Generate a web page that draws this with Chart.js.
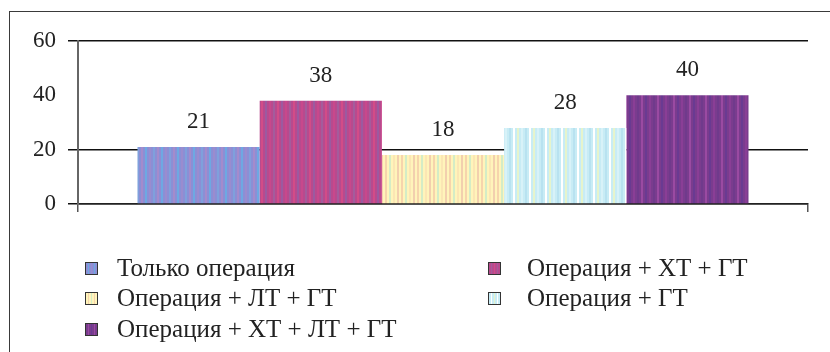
<!DOCTYPE html>
<html>
<head>
<meta charset="utf-8">
<script src="https://cdn.jsdelivr.net/npm/chart.js@4.4.1/dist/chart.umd.min.js"></script>
<style>
  html, body { margin: 0; padding: 0; background: #fff; }
  body { width: 830px; height: 352px; overflow: hidden; position: relative; font-family: "Liberation Serif", "DejaVu Serif", serif; }
  #frame { position: absolute; left: 9px; top: 11px; width: 900px; height: 400px; border-left: 1.5px solid #3a3a3a; border-top: 1.5px solid #3a3a3a; }
  #wrap { position: absolute; left: 0; top: 0; width: 830px; height: 230px; }
  #legend { position: absolute; left: 0; top: 0; width: 830px; height: 352px; }
  .item { position: absolute; font-size: 25px; color: #222; white-space: nowrap; }
  .mk { position: absolute; width: 11px; height: 11px; border: 1px solid #333; box-sizing: content-box; }
</style>
</head>
<body>
<div id="frame"></div>
<div id="wrap"><canvas id="c"></canvas></div>
<div id="legend"></div>
<script>
// ---- data ----
const categories = [''];
const seriesNames = ['Только операция', 'Операция + ХТ + ГТ', 'Операция + ЛТ + ГТ', 'Операция + ГТ', 'Операция + ХТ + ЛТ + ГТ'];
const seriesValues = [21, 38, 18, 28, 40];
const yTicks = [0, 20, 40, 60];

// ---- styles ----
const stripeStyles = [
  { base: '#8b8fd5', stripes: ['#6ea8e2', '#9a8ccf', '#7fa0dc', '#a48bcc'] },
  { base: '#b84a8e', stripes: ['#a45c9c', '#d24c88', '#9c5aa0', '#c8488c'] },
  { base: '#fff4ba', stripes: ['#f6d4ac', '#d4ecc6', '#fbe6b4', '#f2cfae'] },
  { base: '#c8ecf5', stripes: ['#ffffff', '#e6f4cc', '#d8f2f8', '#b8e2f0'] },
  { base: '#7a3c8e', stripes: ['#9a4aa2', '#6a3a92', '#8a3e96', '#703a8c'] }
];
function makePattern(st) {
  const c = document.createElement('canvas');
  c.width = 16; c.height = 4;
  const g = c.getContext('2d');
  g.fillStyle = st.base; g.fillRect(0, 0, 16, 4);
  const xs = [1, 5, 9, 13];
  st.stripes.forEach((col, i) => { g.fillStyle = col; g.fillRect(xs[i], 0, 2, 4); });
  return g.createPattern(c, 'repeat');
}
function cssStripes(st) {
  return 'repeating-linear-gradient(90deg,' + st.base + ' 0 2px,' + st.stripes[0] + ' 2px 3px,' + st.base + ' 3px 5px,' + st.stripes[1] + ' 5px 6px)';
}

const valueLabels = {
  id: 'valueLabels',
  afterDatasetsDraw(chart) {
    const ctx = chart.ctx;
    ctx.save();
    ctx.font = '23px "Liberation Serif", serif';
    ctx.fillStyle = '#222';
    ctx.textAlign = 'center';
    ctx.textBaseline = 'alphabetic';
    chart.data.datasets.forEach((ds, i) => {
      const meta = chart.getDatasetMeta(i);
      meta.data.forEach((el, j) => {
        ctx.fillText(String(ds.data[j]), el.x, el.y - 19);
      });
    });
    ctx.restore();
  }
};

const datasets = seriesNames.map((name, i) => ({
  label: name,
  data: [seriesValues[i]],
  backgroundColor: makePattern(stripeStyles[i]),
  borderWidth: 0
}));

new Chart(document.getElementById('c'), {
  type: 'bar',
  data: { labels: categories, datasets },
  plugins: [valueLabels],
  options: {
    responsive: true,
    maintainAspectRatio: false,
    animation: false,
    layout: { padding: { left: 0, right: 22, top: 41, bottom: 18 } },
    datasets: { bar: { categoryPercentage: 0.837, barPercentage: 1 } },
    plugins: { legend: { display: false }, tooltip: { enabled: false } },
    scales: {
      x: {
        grid: { offset: true, drawOnChartArea: false, drawTicks: true, tickLength: 8, color: '#555', lineWidth: 1.5 },
        border: { display: true, color: '#222', width: 1.5 },
        ticks: { display: false }
      },
      y: {
        min: 0, max: 60,
        afterBuildTicks(scale) { scale.ticks = yTicks.map(v => ({ value: v })); },
        afterFit(scale) { scale.width = 78; },
        ticks: { font: { family: '"Liberation Serif", serif', size: 23 }, color: '#222', padding: 12 },
        grid: {
          color: (ctx) => (ctx.tick && ctx.tick.value === 40) ? 'rgba(0,0,0,0)' : '#111',
          lineWidth: 1.5, tickLength: 10
        },
        border: { display: true, color: '#666', width: 2 }
      }
    }
  }
});

// HTML legend, two columns
const legendPos = [[85, 268], [488, 268], [85, 298], [488, 298], [85, 329]];
const textOffset = [32, 39, 32, 39, 32];
const lg = document.getElementById('legend');
seriesNames.forEach((name, i) => {
  const mk = document.createElement('div');
  mk.className = 'mk';
  mk.style.left = legendPos[i][0] + 'px';
  mk.style.top = (legendPos[i][1] - 6) + 'px';
  mk.style.background = cssStripes(stripeStyles[i]);
  lg.appendChild(mk);
  const t = document.createElement('div');
  t.className = 'item';
  t.textContent = name;
  t.style.left = (legendPos[i][0] + textOffset[i]) + 'px';
  t.style.top = (legendPos[i][1] - 14) + 'px';
  t.style.lineHeight = '28px';
  lg.appendChild(t);
});
</script>
</body>
</html>
